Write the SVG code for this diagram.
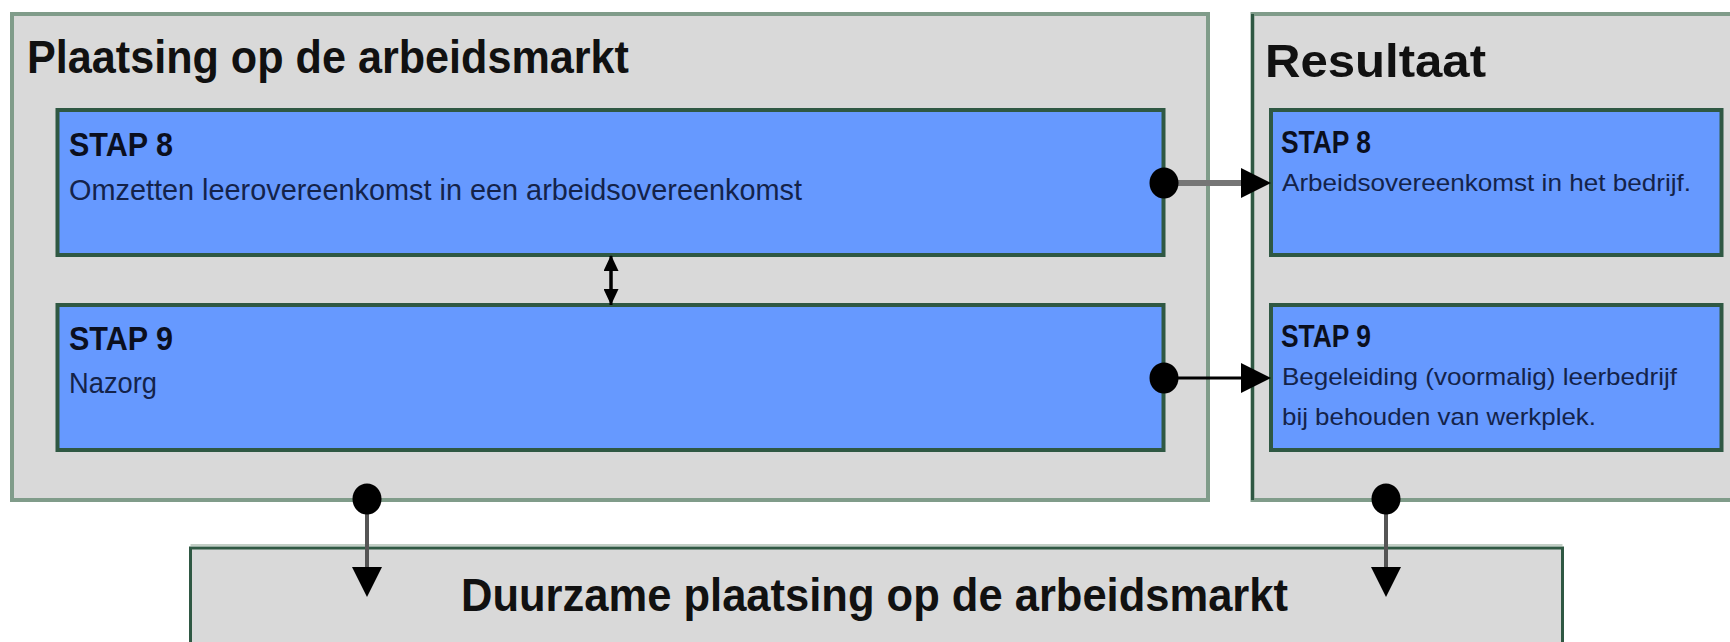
<svg xmlns="http://www.w3.org/2000/svg" width="1730" height="642" viewBox="0 0 1730 642">
  <style>
    .outer { fill: #d9d9d9; stroke: #809c8a; stroke-width: 4; }
    .step { fill: #6699ff; stroke: #2f5843; stroke-width: 4; }
    .bottom { fill: #d9d9d9; stroke: #2f5843; stroke-width: 3; }
    .title { font-family: "Liberation Sans", Arial, sans-serif; font-weight: bold; font-size: 47px; fill: #111111; }
    .stap { font-family: "Liberation Sans", Arial, sans-serif; font-weight: bold; fill: #0b0f1e; }
    .body { font-family: "Liberation Sans", Arial, sans-serif; fill: #14234a; }
    .conn { fill: none; }
  </style>
  <defs>
    <marker id="dot" viewBox="0 0 30 32" refX="15" refY="16" markerWidth="30" markerHeight="32" markerUnits="userSpaceOnUse" orient="0">
      <ellipse cx="15" cy="16" rx="14.5" ry="15.5" fill="#000"/>
    </marker>
    <marker id="head" viewBox="0 0 30 30" refX="0" refY="15" markerWidth="30" markerHeight="30" markerUnits="userSpaceOnUse" orient="auto">
      <path d="M0,0 L30,15 L0,30 Z" fill="#000"/>
    </marker>
    <marker id="small" viewBox="0 0 16 15" refX="0" refY="7.5" markerWidth="16" markerHeight="15" markerUnits="userSpaceOnUse" orient="auto-start-reverse">
      <path d="M0,0 L16,7.5 L0,15 Z" fill="#000"/>
    </marker>
  </defs>

  <g id="plaatsing">
    <rect class="outer" x="12" y="14" width="1196" height="486"/>
    <text class="title" x="27" y="73" textLength="602" lengthAdjust="spacingAndGlyphs">Plaatsing op de arbeidsmarkt</text>
  </g>

  <g id="resultaat">
    <rect class="outer" x="1252.5" y="14" width="520" height="486"/>
    <line x1="1252.5" y1="14" x2="1252.5" y2="500" stroke="#2f5843" stroke-width="3"/>
    <text class="title" x="1265" y="77" textLength="221" lengthAdjust="spacingAndGlyphs">Resultaat</text>
  </g>

  <g id="stap8-links">
    <rect class="step" x="57.5" y="110" width="1106" height="145"/>
    <text class="stap" x="69" y="156" font-size="34" textLength="104" lengthAdjust="spacingAndGlyphs">STAP 8</text>
    <text class="body" x="69" y="200" font-size="30" textLength="733" lengthAdjust="spacingAndGlyphs">Omzetten leerovereenkomst in een arbeidsovereenkomst</text>
  </g>

  <g id="stap9-links">
    <rect class="step" x="57.5" y="305" width="1106" height="145"/>
    <text class="stap" x="69" y="350" font-size="34" textLength="104" lengthAdjust="spacingAndGlyphs">STAP 9</text>
    <text class="body" x="69" y="393" font-size="30" textLength="88" lengthAdjust="spacingAndGlyphs">Nazorg</text>
  </g>

  <g id="stap8-rechts">
    <rect class="step" x="1271" y="110" width="450.5" height="145"/>
    <text class="stap" x="1281" y="153" font-size="31" textLength="90" lengthAdjust="spacingAndGlyphs">STAP 8</text>
    <text class="body" x="1282" y="191" font-size="24" textLength="409" lengthAdjust="spacingAndGlyphs">Arbeidsovereenkomst in het bedrijf.</text>
  </g>

  <g id="stap9-rechts">
    <rect class="step" x="1271" y="305" width="450.5" height="145"/>
    <text class="stap" x="1281" y="347" font-size="31" textLength="90" lengthAdjust="spacingAndGlyphs">STAP 9</text>
    <text class="body" x="1282" y="385" font-size="24" textLength="395" lengthAdjust="spacingAndGlyphs">Begeleiding (voormalig) leerbedrijf</text>
    <text class="body" x="1282" y="425" font-size="24" textLength="314" lengthAdjust="spacingAndGlyphs">bij behouden van werkplek.</text>
  </g>

  <g id="duurzaam">
    <line x1="190.5" y1="545" x2="1562.5" y2="545" stroke="#c3cfc6" stroke-width="2"/>
    <rect class="bottom" x="190.5" y="548" width="1372" height="120"/>
    <text class="title" x="461" y="611" font-size="46" textLength="827" lengthAdjust="spacingAndGlyphs">Duurzame plaatsing op de arbeidsmarkt</text>
  </g>

  <g id="connectors">
    <line class="conn" x1="1164" y1="183" x2="1241" y2="183" stroke="#767676" stroke-width="6" marker-start="url(#dot)" marker-end="url(#head)"/>
    <line class="conn" x1="1164" y1="378" x2="1241" y2="378" stroke="#000" stroke-width="3" marker-start="url(#dot)" marker-end="url(#head)"/>
    <line class="conn" x1="611" y1="271" x2="611" y2="289" stroke="#000" stroke-width="3" marker-start="url(#small)" marker-end="url(#small)"/>
    <line class="conn" x1="611" y1="256" x2="611" y2="305" stroke="#000" stroke-width="3"/>
    <line class="conn" x1="367" y1="499" x2="367" y2="567" stroke="#555" stroke-width="4" marker-start="url(#dot)" marker-end="url(#head)"/>
    <line class="conn" x1="1386" y1="499" x2="1386" y2="567" stroke="#555" stroke-width="4" marker-start="url(#dot)" marker-end="url(#head)"/>
  </g>
</svg>
